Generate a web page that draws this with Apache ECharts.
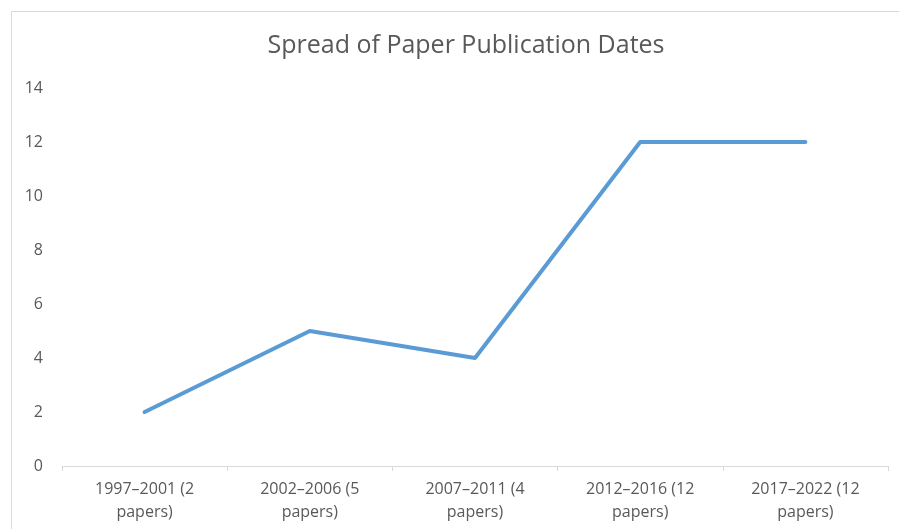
<!DOCTYPE html>
<html>
<head>
    <meta charset="utf-8">
    <title>ECharts</title>
    <script src="https://cdn.jsdelivr.net/npm/echarts@6/dist/echarts.min.js"></script>
    <style>
        body { margin: 0; background: #fff; }
    </style>
</head>
<body>
<div id="main" style="width: 899px;height:529px;"></div>
<script type="text/javascript">
    // data
    var categories = ['1997–2001 (2\npapers)', '2002–2006 (5\npapers)', '2007–2011 (4\npapers)', '2012–2016 (12\npapers)', '2017–2022 (12\npapers)'];
    var paperCounts = [2, 5, 4, 12, 12];
    var yTicks = { min: 0, max: 14, interval: 2 };

    var myChart = echarts.init(document.getElementById('main'));

    var option = {
        backgroundColor: '#fff',
        title: {
            text: 'Spread of Paper Publication Dates',
            left: 461,
            top: 28,
            textAlign: 'center',
            textStyle: {
                fontFamily: 'Open Sans',
                fontSize: 25,
                fontWeight: 'normal',
                color: '#595959'
            }
        },
        graphic: [{
            type: 'rect',
            shape: { x: 11.5, y: 11.5, width: 1000, height: 1000 },
            style: { fill: 'none', stroke: '#d9d9d9', lineWidth: 1 },
            silent: true
        }],
        grid: { left: 62, right: 11, top: 88, bottom: 63 },
        xAxis: {
            type: 'category',
            data: categories,
            boundaryGap: true,
            axisLine: { lineStyle: { color: '#d9d9d9', width: 1 } },
            axisTick: { show: true, length: 5, lineStyle: { color: '#d9d9d9' } },
            axisLabel: {
                color: '#595959',
                fontFamily: 'Open Sans',
                fontSize: 16,
                lineHeight: 23,
                margin: 12,
                interval: 0
            }
        },
        yAxis: {
            type: 'value',
            min: yTicks.min,
            max: yTicks.max,
            interval: yTicks.interval,
            axisLine: { show: false },
            axisTick: { show: false },
            splitLine: { show: false },
            axisLabel: {
                color: '#595959',
                fontFamily: 'Open Sans',
                fontSize: 16,
                margin: 19
            }
        },
        series: [{
            type: 'line',
            data: paperCounts,
            symbol: 'none',
            lineStyle: { color: '#5b9bd5', width: 4, cap: 'round', join: 'round' },
            itemStyle: { color: '#5b9bd5' }
        }]
    };

    myChart.setOption(option);
</script>
</body>
</html>
